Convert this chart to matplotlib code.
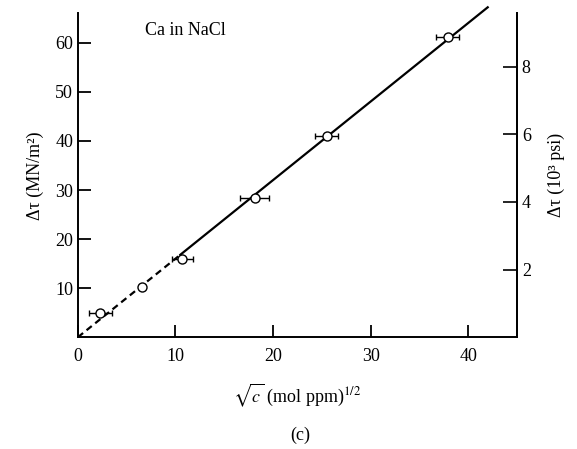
import numpy as np
import matplotlib.pyplot as plt

plt.rcParams['font.family'] = ['Liberation Serif', 'DejaVu Serif']
plt.rcParams['mathtext.fontset'] = 'stix'

# measured points: sqrt(c) vs. stress increment
sqrt_c = [2.3, 6.6, 10.7, 18.1, 25.5, 37.9]
dtau = [4.9, 10.2, 15.9, 28.4, 41.0, 61.2]
sqrt_c_err = [1.2, 0.0, 1.1, 1.5, 1.2, 1.2]

x_ticks = [0, 10, 20, 30, 40]
y_ticks = [10, 20, 30, 40, 50, 60]
psi_ticks = [2, 4, 6, 8]
MN_TO_KPSI = 0.145  # 1 MN/m^2 = 0.145 x 10^3 psi

x = np.array(sqrt_c)
y = np.array(dtau)
slope = np.sum(x * y) / np.sum(x * x)  # fit through origin

fig = plt.figure(figsize=(5.77, 4.49), dpi=100)
ax = fig.add_axes([0.135, 0.249, 0.761, 0.721])

# dashed part at low concentration, solid above
xd = np.array([0, 10.5])
xs = np.array([10.5, 42.0])
ax.plot(xd, slope * xd, color='black', lw=1.6, ls=(0, (3, 2)))
ax.plot(xs, slope * xs, color='black', lw=1.6, clip_on=False)

ax.errorbar(x, y, xerr=sqrt_c_err, fmt='o', mfc='white', mec='black',
            ecolor='black', ms=6.5, mew=1.0, elinewidth=1.0, capsize=2.5,
            capthick=1.0, zorder=3)

ax.set_xlim(0, 45)
ax.set_ylim(0, 66)
ax.set_xticks(x_ticks)
ax.set_yticks(y_ticks)
ax.spines['top'].set_visible(False)
for s in ['left', 'bottom', 'right']:
    ax.spines[s].set_linewidth(1.4)
ax.tick_params(direction='in', length=9, width=1.3, labelsize=13)
ax.tick_params(axis='x', pad=8)

sec = ax.secondary_yaxis('right', functions=(lambda v: v * MN_TO_KPSI,
                                             lambda v: v / MN_TO_KPSI))
sec.set_yticks(psi_ticks)
sec.spines['right'].set_linewidth(1.2)
sec.tick_params(direction='in', length=10, width=1.2, labelsize=13)
sec.set_ylabel('Δτ (10³ psi)', fontsize=13, labelpad=12)

ax.set_ylabel('Δτ (MN/m²)', fontsize=13, labelpad=8)
ax.set_xlabel(r'$\sqrt{c}$ (mol ppm)$^{1/2}$', fontsize=13, labelpad=12)
ax.text(11, 62.6, 'Ca in NaCl', fontsize=13, ha='center', va='center')
fig.text(0.52, 0.03, '(c)', fontsize=13, ha='center', va='center')

fig.savefig('out.png', dpi=100)
